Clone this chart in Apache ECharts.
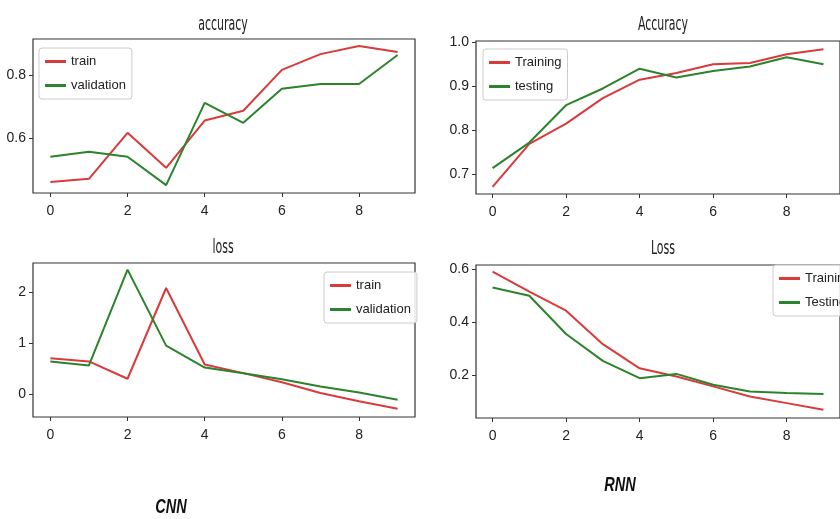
<!DOCTYPE html>
<html><head><meta charset="utf-8">
<script src="https://cdn.jsdelivr.net/npm/echarts@6/dist/echarts.min.js"></script>
<style>html,body{margin:0;padding:0;background:#fff}#c{width:840px;height:519px}</style>
</head><body><div id="c"></div>
<script>
const epochs = [0,1,2,3,4,5,6,7,8,9];
const cnnAccTrain = [0.46,0.47,0.616,0.505,0.655,0.686,0.816,0.866,0.892,0.873];
const cnnAccVal   = [0.54,0.556,0.54,0.45,0.711,0.648,0.756,0.771,0.771,0.863];
const cnnLossTrain = [0.70,0.64,0.30,2.08,0.58,0.41,0.23,0.02,-0.14,-0.29];
const cnnLossVal   = [0.64,0.56,2.44,0.95,0.52,0.41,0.29,0.15,0.03,-0.11];
const rnnAccTrain = [0.671,0.769,0.815,0.873,0.915,0.93,0.95,0.953,0.973,0.984];
const rnnAccTest  = [0.714,0.772,0.857,0.895,0.94,0.92,0.935,0.945,0.966,0.95];
const rnnLossTrain = [0.591,0.516,0.444,0.318,0.227,0.196,0.159,0.121,0.096,0.071];
const rnnLossTest  = [0.531,0.50,0.356,0.255,0.19,0.206,0.165,0.14,0.134,0.13];
const xTicks = [0,2,4,6,8];
const yTicksCnnAcc = [0.6,0.8];
const yTicksCnnLoss = [0,1,2];
const yTicksRnnAcc = [0.7,0.8,0.9,1.0];
const yTicksRnnLoss = [0.2,0.4,0.6];
const titles = ['accuracy','Accuracy','loss','Loss'];
const modelNames = ['CNN','RNN'];

const RED = '#d93a3a', GREEN = '#2b832b';
const FONT = "'Liberation Sans',Arial,sans-serif";

const grids = [
  {left:33, top:39, width:382, height:154},
  {left:476, top:41, width:376, height:153},
  {left:33, top:263, width:382, height:154},
  {left:476, top:265, width:376, height:153}
];
const yRanges = [[0.425,0.914],[0.655,1.003],[-0.45,2.57],[0.04,0.616]];
const yTicks = [yTicksCnnAcc, yTicksRnnAcc, yTicksCnnLoss, yTicksRnnLoss];
const yDec = [1,1,0,1];

function pairs(ys){ return epochs.map((e,i)=>[e, ys[i]]); }

const xAxis = grids.map((g,i)=>({
  type:'value', gridIndex:i, min:-0.45, max:9.45, position:'bottom',
  splitLine:{show:false},
  axisLine:{show:false, onZero:false},
  axisTick:{show:true, length:4, customValues:xTicks, lineStyle:{color:'#333'}},
  axisLabel:{show:true, customValues:xTicks, margin:11, color:'#222', fontSize:14, fontFamily:FONT}
}));
const yAxis = grids.map((g,i)=>({
  type:'value', gridIndex:i, min:yRanges[i][0], max:yRanges[i][1], position:'left',
  splitLine:{show:false},
  axisLine:{show:false, onZero:false},
  axisTick:{show:true, length:4, customValues:yTicks[i], lineStyle:{color:'#333'}},
  axisLabel:{show:true, customValues:yTicks[i], margin:7, color:'#222', fontSize:14, fontFamily:FONT,
    formatter:(v)=>Number(v).toFixed(yDec[i])}
}));

function line(name, data, color, idx){
  return {type:'line', name, data:pairs(data), xAxisIndex:idx, yAxisIndex:idx,
    showSymbol:false, symbol:'none', lineStyle:{color, width:2}, itemStyle:{color}, animation:false, z:3};
}
const series = [
  line('train', cnnAccTrain, RED, 0),
  line('validation', cnnAccVal, GREEN, 0),
  line('Training', rnnAccTrain, RED, 1),
  line('testing', rnnAccTest, GREEN, 1),
  line('train', cnnLossTrain, RED, 2),
  line('validation', cnnLossVal, GREEN, 2),
  line('Training', rnnLossTrain, RED, 3),
  line('Testing', rnnLossTest, GREEN, 3)
];

function legend(data, left, top){
  return {data: data.map(n=>({name:n})), left, top, orient:'vertical',
    icon:'rect', itemWidth:21, itemHeight:3, itemGap:11,
    backgroundColor:'rgba(255,255,255,0.85)', borderColor:'#ccc', borderWidth:1, borderRadius:3,
    padding:[7,6,7,6], selectedMode:false,
    textStyle:{fontSize:13, color:'#222', fontFamily:FONT}};
}

const titleCenters = [[223,25],[663,25],[223,248],[663,249]];
const graphic = titles.map((t,i)=>({type:'text', x:titleCenters[i][0], y:titleCenters[i][1], scaleX:0.55,
  style:{text:t, fill:'#222', font:"20px 'DejaVu Sans',sans-serif", textAlign:'center', textVerticalAlign:'middle'}}));
graphic.push({type:'text', x:171, y:507, scaleX:0.69, style:{text:modelNames[0], fill:'#111', font:"italic bold 21px 'Liberation Sans',sans-serif", textAlign:'center', textVerticalAlign:'middle'}});
graphic.push({type:'text', x:620, y:485, scaleX:0.69, style:{text:modelNames[1], fill:'#111', font:"italic bold 21px 'Liberation Sans',sans-serif", textAlign:'center', textVerticalAlign:'middle'}});

const chart = echarts.init(document.getElementById('c'), null, {renderer:'canvas'});
chart.setOption({
  animation:false,
  backgroundColor:'#fff',
  grid: grids.map(g=>Object.assign({show:true, borderColor:'#333', borderWidth:1.2, backgroundColor:'transparent'}, g)),
  xAxis, yAxis, series,
  legend: [
    legend(['train','validation'], 39, 48),
    legend(['Training','testing'], 483, 49),
    legend(['train','validation'], 324, 272),
    legend(['Training','Testing'], 773, 265)
  ],
  graphic
});
</script></body></html>
